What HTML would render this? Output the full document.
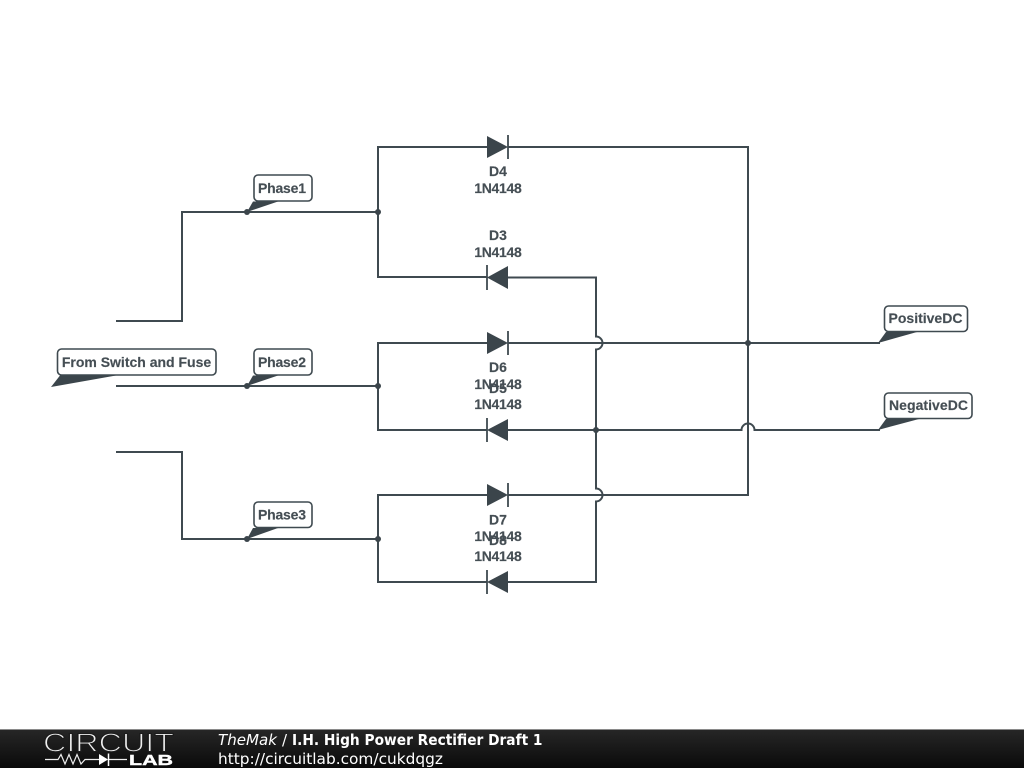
<!DOCTYPE html>
<html>
<head>
<meta charset="utf-8">
<style>
html,body{margin:0;padding:0;background:#fff;width:1024px;height:768px;overflow:hidden}
svg{display:block}
.w{fill:none;stroke:#3f4a50;stroke-width:2}
.d{fill:#3b454b}
.t{font-family:"Liberation Sans",sans-serif;font-size:14px;font-weight:bold;fill:#454e54;text-anchor:middle;stroke:#454e54;stroke-width:.15}
.b{fill:#fff;stroke:#3f4a50;stroke-width:1.6}
.f{font-family:"DejaVu Sans",sans-serif;font-size:15px;fill:#fff}
</style>
</head>
<body>
<svg width="1024" height="768" viewBox="0 0 1024 768" xmlns="http://www.w3.org/2000/svg">
<defs>
<linearGradient id="g" x1="0" y1="0" x2="0" y2="1"><stop offset="0" stop-color="#272727"/><stop offset="1" stop-color="#0a0a0a"/></linearGradient>
</defs>
<rect width="1024" height="768" fill="#fff"/>

<!-- wires -->
<path class="w" d="M116 321H182V212H378"/>
<path class="w" d="M116 386H378"/>
<path class="w" d="M116 452H182V539H378"/>
<path class="w" d="M487 147H378V277H487"/>
<path class="w" d="M487 343H378V430H487"/>
<path class="w" d="M487 495H378V582H487"/>
<path class="w" d="M508 147H748V495H508"/>
<path class="w" d="M508 343H880"/>
<path class="w" d="M508 277.500H596V336.500A6.500 6.500 0 0 1 596 349.500V488.500A6.500 6.500 0 0 1 596 501.500V582H508"/>
<path class="w" d="M508 430H741.500A6.500 6.500 0 0 1 754.500 430H880"/>

<!-- junctions -->
<g class="d">
<circle cx="378" cy="212" r="3"/><circle cx="378" cy="386" r="3"/><circle cx="378" cy="539" r="3"/>
<circle cx="748" cy="343" r="3"/><circle cx="596" cy="430" r="3"/>
<circle cx="247" cy="212" r="3"/><circle cx="247" cy="386" r="3"/><circle cx="247" cy="539" r="3"/>
</g>

<!-- diodes -->
<g class="d">
<polygon points="487,136 508,147 487,158"/>
<polygon points="487,332 508,343 487,354"/>
<polygon points="487,484 508,495 487,506"/>
<polygon points="508,266 487,277.500 508,289"/>
<polygon points="508,419 487,430 508,441"/>
<polygon points="508,571 487,582 508,593"/>
</g>
<g class="w" style="stroke-width:1.800">
<path d="M508 135V159M508 331V355M508 483V507M487 265V290M487 418V442M487 570V594"/>
</g>

<!-- diode labels -->
<text class="t" x="498" y="176">D4</text><text class="t" x="498" y="193" textLength="47.500">1N4148</text>
<text class="t" x="498" y="240">D3</text><text class="t" x="498" y="257" textLength="47.500">1N4148</text>
<text class="t" x="498" y="372">D6</text><text class="t" x="498" y="389" textLength="47.500">1N4148</text>
<text class="t" x="498" y="393">D5</text><text class="t" x="498" y="409" textLength="47.500">1N4148</text>
<text class="t" x="498" y="524.500">D7</text><text class="t" x="498" y="541" textLength="47.500">1N4148</text>
<text class="t" x="498" y="545">D8</text><text class="t" x="498" y="561" textLength="47.500">1N4148</text>

<!-- net labels -->
<rect class="b" x="254" y="175" width="58" height="26" rx="4"/>
<polygon class="d" points="247,212 253,201.500 278,201.500"/>
<text class="t" x="282" y="193" textLength="48">Phase1</text>

<rect class="b" x="254" y="349" width="58" height="26" rx="4"/>
<polygon class="d" points="247,386 253,375.500 278,375.500"/>
<text class="t" x="282" y="367" textLength="48">Phase2</text>

<rect class="b" x="254" y="502" width="58" height="25.500" rx="4"/>
<polygon class="d" points="247,539 253,528 278,528"/>
<text class="t" x="282" y="519.500" textLength="48">Phase3</text>

<rect class="b" x="57.500" y="349" width="158.500" height="26" rx="4"/>
<polygon class="d" points="51,387 60,375.500 116,375.500"/>
<text class="t" x="136.500" y="367">From Switch and Fuse</text>

<rect class="b" x="884.500" y="306" width="83" height="25.500" rx="4"/>
<polygon class="d" points="878,343 886,332 917,332"/>
<text class="t" x="925.500" y="323">PositiveDC</text>

<rect class="b" x="884.500" y="393" width="87.500" height="25.500" rx="4"/>
<polygon class="d" points="878,430 886,419 919,419"/>
<text class="t" x="928.500" y="410" textLength="79">NegativeDC</text>

<!-- footer -->
<rect x="0" y="729" width="1024" height="39" fill="url(#g)"/>
<rect x="0" y="729" width="1024" height="1" fill="#8a8a8a"/>
<text x="43" y="751.500" font-family="Liberation Sans,sans-serif" font-size="26" fill="#f0f0f0" stroke="#1c1c1c" stroke-width="1.100" textLength="131" lengthAdjust="spacingAndGlyphs">CIRCUIT</text>
<path d="M45 759.500H58L61 754.500L65 764L69 754.500L73 764L77 754.500L81 764L85 759.500H99M108 759.500H127" fill="none" stroke="#eee" stroke-width="1.200"/>
<polygon points="99,754 108,759.500 99,765" fill="#fff"/>
<path d="M108.500 753.500V766" stroke="#fff" stroke-width="1.500"/>
<text x="129" y="765" font-family="Liberation Sans,sans-serif" font-size="15" font-weight="bold" fill="#fff" stroke="#fff" stroke-width=".4" textLength="44" lengthAdjust="spacingAndGlyphs">LAB</text>
<text class="f" x="218" y="745" font-style="italic" textLength="59" lengthAdjust="spacingAndGlyphs">TheMak</text>
<text class="f" x="282" y="745">/</text>
<text class="f" x="292" y="745" font-weight="bold" textLength="250.500" lengthAdjust="spacingAndGlyphs">I.H. High Power Rectifier Draft 1</text>
<text class="f" x="218" y="764" textLength="225" lengthAdjust="spacingAndGlyphs">http://circuitlab.com/cukdqgz</text>
</svg>
</body>
</html>
